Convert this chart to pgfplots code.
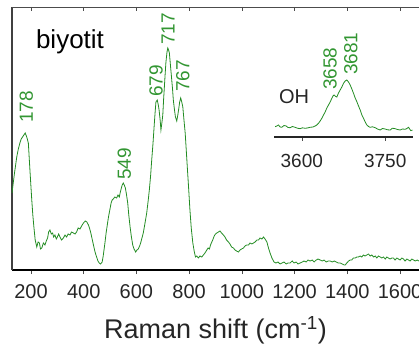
\documentclass[border=0pt]{standalone}
\usepackage{pgfplots}
\pgfplotsset{compat=1.18}
\usepackage{fontspec}
\setmainfont{Liberation Sans}
\definecolor{spec}{RGB}{35,140,35}
\definecolor{lab}{RGB}{50,150,50}
\begin{document}
\begin{tikzpicture}
\useasboundingbox (-12pt,-75pt) rectangle (407pt,270pt);
% main spectrum
\begin{axis}[
  at={(0pt,0pt)}, anchor=south west,
  scale only axis, width=407pt, height=263pt,
  xmin=128, xmax=1672, ymin=0, ymax=263,
  axis x line*=bottom, axis y line*=left,
  x axis line style={-, line width=1.2pt, black},
  y axis line style={-, line width=1.6pt, black!75},
  ytick=\empty,
  xtick={200,400,...,1600},
  tick align=outside, major tick length=4pt,
  tick style={black!70, line width=0.6pt},
  /pgf/number format/assume math mode=true,
  /pgf/number format/set thousands separator={},
  xticklabel style={font=\fontsize{20}{20}\selectfont, text=black!85, yshift=-7pt},
  xlabel={Raman shift (cm\textsuperscript{-1})},
  xlabel style={font=\fontsize{27}{27}\selectfont, text=black!85, yshift=-11pt},
  clip=false,
]
\addplot[spec, line width=0.8pt] coordinates {
(128,77)(137,96)(146,113)(152,121)(158,127)(163,131)(168,133)(173,135)(178,137)(184,133)(190,127)(196,100)(203,70)(207,55)(211,43)(216,30)(222,23)(227,28)(232,27)(236,21)(241,22)(247,27)(253,25)(258,29)(263,32)(267,38)(272,40)(277,36)(282,37)(286,33)(291,35)(296,31)(300,33)(305,36)(310,33)(316,30)(323,32)(329,35)(335,33)(341,36)(348,35)(354,38)(361,37)(367,36)(373,38)(379,42)(386,41)(392,44)(399,47)(406,49)(412,48)(418,45)(423,41)(427,37)(432,31)(437,25)(443,18)(449,13)(454,9)(459,7)(464,6)(470,8)(474,14)(477,20)(481,28)(485,37)(490,46)(494,53)(499,60)(504,67)(508,70)(512,71)(518,73)(525,72)(530,75)(535,73)(539,78)(543,82)(546,85)(550,87)(554,85)(558,82)(562,76)(567,67)(571,55)(576,43)(581,33)(586,25)(591,21)(597,18)(602,20)(607,21)(612,24)(616,27)(621,32)(626,37)(632,46)(639,57)(644,68)(649,80)(654,95)(658,110)(663,127)(667,143)(671,158)(674,168)(679,170)(683,165)(686,160)(690,150)(693,140)(697,148)(700,155)(703,170)(706,183)(709,196)(712,208)(716,218)(719,222)(722,220)(725,217)(729,205)(733,193)(737,181)(740,170)(744,161)(748,153)(753,149)(757,155)(761,162)(764,168)(768,172)(772,168)(776,163)(780,151)(785,137)(789,120)(793,103)(798,82)(803,60)(808,42)(814,27)(819,19)(824,13)(829,14)(835,12)(841,14)(848,13)(854,15)(860,17)(867,20)(872,22)(877,21)(881,25)(886,28)(891,31)(895,34)(900,36)(905,37)(911,38)(917,39)(923,37)(930,35)(936,33)(942,30)(949,28)(955,26)(961,23)(968,22)(974,20)(980,19)(987,18)(993,20)(999,21)(1006,22)(1012,24)(1018,25)(1025,25)(1031,27)(1038,26)(1044,27)(1050,28)(1057,30)(1063,30)(1069,32)(1076,31)(1082,33)(1088,31)(1095,28)(1101,22)(1107,17)(1114,12)(1122,8)(1129,7)(1137,8)(1145,6)(1152,7)(1160,8)(1168,6)(1175,7)(1183,7)(1191,9)(1198,7)(1206,8)(1213,6)(1221,7)(1229,8)(1236,9)(1244,8)(1251,10)(1259,9)(1267,10)(1274,8)(1282,10)(1289,11)(1297,10)(1305,9)(1312,10)(1320,8)(1328,9)(1335,9)(1343,8)(1351,9)(1358,8)(1366,7)(1373,7)(1381,6)(1388,5)(1392,5)(1398,7)(1405,9)(1411,10)(1417,10)(1423,12)(1430,12)(1436,13)(1442,13)(1449,14)(1455,13)(1461,15)(1467,14)(1474,15)(1480,16)(1487,14)(1493,15)(1500,13)(1506,14)(1512,12)(1518,14)(1525,13)(1531,12)(1537,13)(1544,11)(1550,13)(1556,12)(1562,11)(1569,12)(1575,12)(1581,10)(1588,12)(1594,11)(1600,10)(1607,12)(1613,11)(1619,9)(1626,11)(1632,10)(1638,9)(1645,11)(1651,10)(1658,9)(1665,10)(1672,9)
};
\node[anchor=west, rotate=90, text=lab, font=\fontsize{19}{19}\selectfont, inner sep=0pt] at (axis cs:182,147) {178};
\node[anchor=west, rotate=90, text=lab, font=\fontsize{19}{19}\selectfont, inner sep=0pt] at (axis cs:554,90) {549};
\node[anchor=west, rotate=90, text=lab, font=\fontsize{19}{19}\selectfont, inner sep=0pt] at (axis cs:675,173) {679};
\node[anchor=west, rotate=90, text=lab, font=\fontsize{19}{19}\selectfont, inner sep=0pt] at (axis cs:720,225) {717};
\node[anchor=west, rotate=90, text=lab, font=\fontsize{19}{19}\selectfont, inner sep=0pt] at (axis cs:776,178) {767};
\node[anchor=center, text=black, font=\fontsize{26}{26}\selectfont, inner sep=0pt] at (axis cs:348,228) {biyotit};
\end{axis}
% top line with inward ticks
\begin{axis}[
  at={(0pt,0pt)}, anchor=south west,
  scale only axis, width=407pt, height=263pt,
  xmin=128, xmax=1672, ymin=0, ymax=263,
  axis x line*=top, hide y axis,
  x axis line style={-, line width=0.8pt, black!70},
  xtick={200,400,...,1600}, xticklabels={},
  tick align=inside, major tick length=4pt,
  tick style={black!70, line width=0.6pt},
]
\addplot[draw=none] coordinates {(200,10)};
\end{axis}
% inset
\begin{axis}[
  at={(262pt,133pt)}, anchor=south west,
  scale only axis, width=139pt, height=117pt,
  xmin=3550, xmax=3800, ymin=0, ymax=117,
  axis x line*=bottom, hide y axis,
  x axis line style={-, line width=1.2pt, black!85},
  xtick={3600,3750},
  tick align=outside, major tick length=4pt,
  tick style={black!70, line width=0.6pt},
  /pgf/number format/assume math mode=true,
  /pgf/number format/set thousands separator={},
  xticklabel style={font=\fontsize{19}{19}\selectfont, text=black!85, yshift=-10pt},
  clip=false,
]
\addplot[spec, line width=0.8pt] coordinates {
(3552,10.3)(3555,11)(3558,12)(3561,10)(3564,9.7)(3568,11.5)(3572,11)(3575,9.5)(3579,9.3)(3583,10.5)(3588,9.7)(3592,8.8)(3597,8.3)(3601,9.2)(3606,8.7)(3610,9)(3615,9.7)(3620,10)(3624,11)(3627,12)(3630,13.7)(3633,16)(3636,18.7)(3639,22)(3642,25)(3645,29)(3648,32)(3651,35)(3654,38.7)(3656,41)(3658,42)(3661,40.5)(3663,40)(3666,44)(3669,47)(3672,50)(3675,53.7)(3678,56)(3681,57)(3684,55)(3687,52)(3690,48)(3693,43.7)(3696,39)(3699,35.3)(3702,31)(3705,27)(3708,22)(3711,18.7)(3714,15)(3717,12)(3720,10.5)(3723,9.7)(3727,10.2)(3732,9.3)(3736,8)(3741,7)(3745,8.5)(3750,8)(3754,7.2)(3759,7)(3763,8.8)(3768,8.3)(3772,7.5)(3777,7)(3781,8)(3786,7.7)(3789,8.5)(3792,9.7)(3796,6.3)(3799,7)
};
\node[anchor=west, rotate=90, text=lab, font=\fontsize{19}{19}\selectfont, inner sep=0pt] at (axis cs:3651,47) {3658};
\node[anchor=west, rotate=90, text=lab, font=\fontsize{19}{19}\selectfont, inner sep=0pt] at (axis cs:3688,62) {3681};
\node[anchor=center, text=black!85, font=\fontsize{20}{20}\selectfont, inner sep=0pt] at (axis cs:3586,40) {OH};
\end{axis}
\end{tikzpicture}
\end{document}
